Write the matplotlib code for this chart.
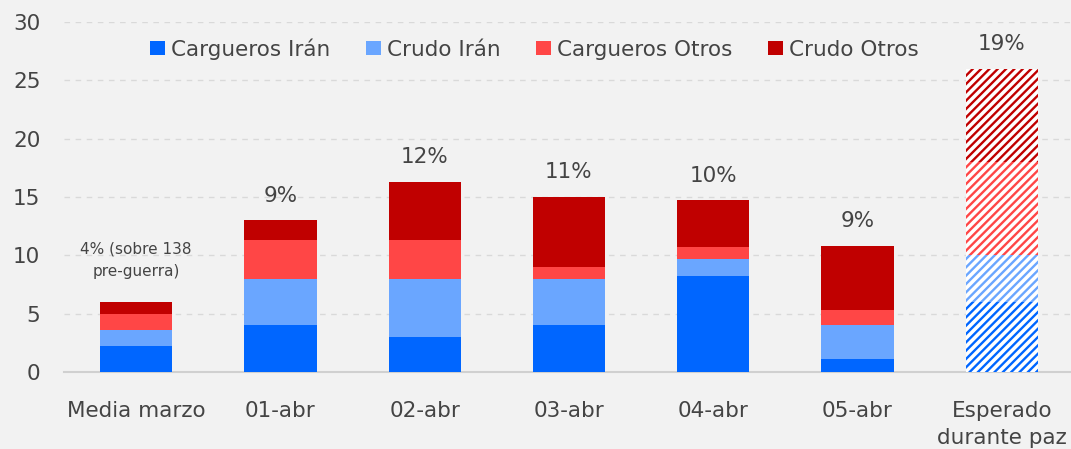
import numpy as np
import matplotlib as mpl
import matplotlib.pyplot as plt
from matplotlib.patches import Patch

mpl.rcParams['font.family'] = ['DejaVu Sans']
mpl.rcParams['hatch.linewidth'] = 1.7

# =========================
# データ
# =========================
categorias = ['Media marzo', '01-abr', '02-abr', '03-abr', '04-abr', '05-abr',
              'Esperado\ndurante paz']
cargueros_iran = [2.2, 4.0, 3.0, 4.0, 8.2, 1.1, 6.0]
crudo_iran = [1.4, 4.0, 5.0, 4.0, 1.5, 2.9, 4.0]
cargueros_otros = [1.4, 3.3, 3.3, 1.0, 1.0, 1.3, 8.0]
crudo_otros = [1.0, 1.7, 5.0, 6.0, 4.0, 5.5, 8.0]
etiquetas = ['4% (sobre 138\npre-guerra)', '9%', '12%', '11%', '10%', '9%', '19%']

series = ['Cargueros Irán', 'Crudo Irán', 'Cargueros Otros', 'Crudo Otros']
colores = ['#0066ff', '#6aa6ff', '#ff4646', '#c00000']

bg = '#f2f2f2'
txt = '#444444'

fig = plt.figure(figsize=(10.71, 4.49), dpi=100, facecolor=bg)
ax = fig.add_axes([0.0598, 0.1715, 0.9402, 0.7795], facecolor=bg)

x = np.arange(len(categorias))
valores = [cargueros_iran, crudo_iran, cargueros_otros, crudo_otros]
bottom = np.zeros(len(categorias))
n_real = len(categorias) - 1

for vals, col in zip(valores, colores):
    vals = np.array(vals)
    # barras reales
    ax.bar(x[:n_real], vals[:n_real], bottom=bottom[:n_real], width=0.5,
           color=col, linewidth=0, zorder=3)
    # barra esperada (rayada)
    ax.bar(x[n_real:], vals[n_real:], bottom=bottom[n_real:], width=0.5,
           facecolor='white', edgecolor=col, hatch='////', linewidth=0,
           zorder=3)
    bottom += vals

# etiquetas encima
for i, (tot, lab) in enumerate(zip(bottom, etiquetas)):
    if i == 0:
        ax.text(x[i], tot + 3.55, lab, ha='center', va='center',
                fontsize=11, color=txt, linespacing=1.6)
    else:
        ax.text(x[i], tot + 2.1, lab, ha='center', va='center',
                fontsize=15.5, color=txt)

# leyenda
handles = [Patch(facecolor=c, edgecolor='none') for c in colores]
ax.legend(handles, series, ncol=4, loc='center', bbox_to_anchor=(0.467, 0.923),
          frameon=False, fontsize=15.5, handlelength=0.7, handleheight=0.65,
          handletextpad=0.28, columnspacing=1.65, labelcolor=txt)

# ejes
ax.set_xlim(-0.5, 6.48)
ax.set_ylim(0, 30)
ax.set_yticks(range(0, 31, 5))
ax.set_xticks(x)
ax.set_xticklabels(categorias, linespacing=1.4)
ax.tick_params(axis='both', length=0, labelsize=15.5, colors=txt)
ax.tick_params(axis='x', pad=21)
ax.tick_params(axis='y', pad=17)
ax.grid(axis='y', color='#d9d9d9', linestyle=(0, (4, 4)), linewidth=1, zorder=0)
for s in ['top', 'right', 'left']:
    ax.spines[s].set_visible(False)
ax.spines['bottom'].set_color('#d0d0d0')
ax.spines['bottom'].set_linewidth(1.5)

fig.savefig('out.png', dpi=100, facecolor=bg)
